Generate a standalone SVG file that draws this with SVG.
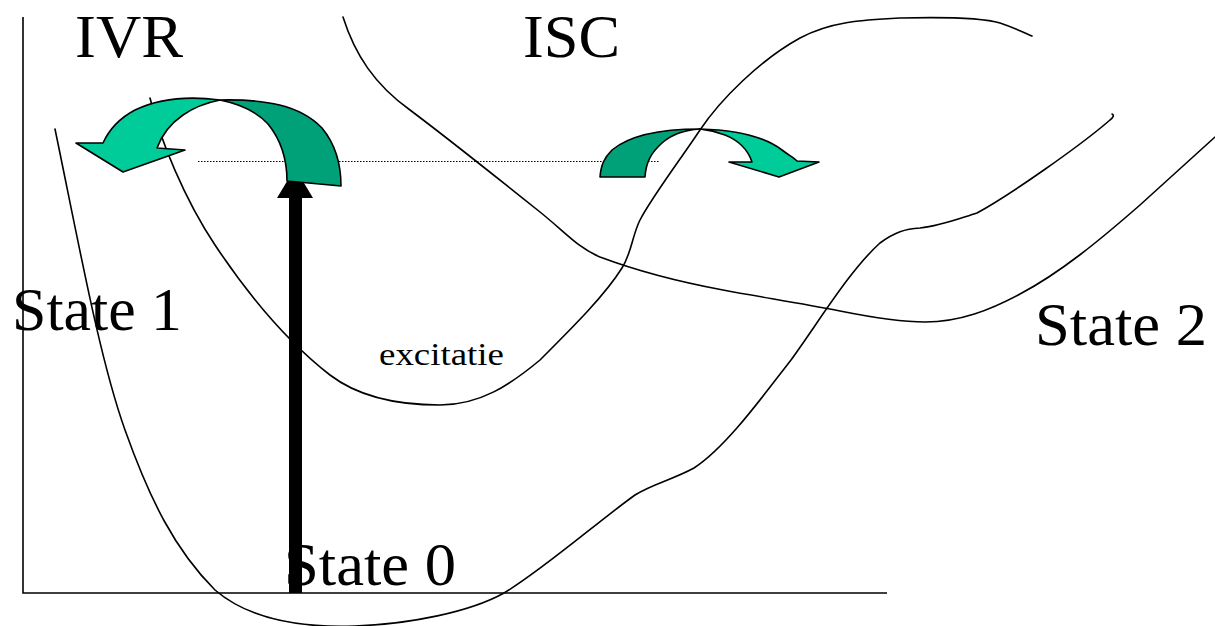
<svg xmlns="http://www.w3.org/2000/svg" width="1215" height="626" viewBox="0 0 1215 626">
  <style>
    .curve { fill: none; stroke: #000; stroke-width: 1.6; stroke-linecap: round; stroke-linejoin: round; }
    .axis { fill: none; stroke: #000; stroke-width: 1.6; }
    .level { fill: none; stroke: #000; stroke-width: 1; stroke-dasharray: 1.5 1.5; }
    .band-back { fill: #00A078; stroke: #000; stroke-width: 1.6; stroke-linejoin: round; }
    .band-front { fill: #00CC99; stroke: #000; stroke-width: 1.6; stroke-linejoin: round; }
    text { fill: #000; }
  </style>
  <rect width="1215" height="626" fill="#fff"/>

  <!-- axes -->
  <g id="axes">
    <path class="axis" d="M23,17 L23,593 L887,593"/>
  </g>

  <!-- energy level of the excited state -->
  <g id="level">
    <path class="level" d="M198,161.5 L660,161.5"/>
  </g>

  <!-- intersystem crossing arrow -->
  <g id="isc-arrow">
    <path class="band-back" d="M600,177 C601,165 604,158 612,150 C630,135 660,129 700,129 C685,130 672,134 662,143 C651,153 646,162 645,177 Z"/>
    <path class="band-front" d="M700,129 C735,130 765,137 782,150 C790,156 794,158 797,161 L819,162 L779,177 L729,162 L752,162 C748,150 738,140 725,135 C717,132 708,130 700,129 Z"/>
  </g>

  <!-- potential energy curves -->
  <g id="connectors">
    <path id="state0" class="curve" d="M55,129 C80,250 100,360 125,430 C150,500 175,550 215,590 C250,620 300,628 355,626 C410,624 470,612 504,593 C540,572 600,520 635,495 C652,484 672,480 694,468 C725,448 760,400 791,360 C820,320 850,270 880,243 C895,232 905,229 920,228 C940,226 955,220 977,213 C1010,195 1080,146 1110,120 C1114,117 1114,115 1112,114"/>
    <path id="state1" class="curve" d="M150,98 C160,140 185,200 215,245 C245,290 285,340 330,375 C360,398 400,405 440,405 C480,405 510,385 540,360 C575,325 605,295 622,268 C632,252 632,236 640,220 C652,197 680,160 700,130 C720,100 760,60 800,38 C830,22 860,20 900,18 C940,17 980,17 1000,23 C1015,28 1025,33 1032,36"/>
    <path id="state2" class="curve" d="M343,17 C355,55 375,85 410,110 C450,140 500,180 540,212 C565,232 578,248 600,257 C640,272 680,282 723,290 C760,297 800,303 840,311 C870,317 900,322 925,322 C960,322 990,310 1020,294 C1060,273 1100,240 1140,205 C1170,178 1195,155 1215,137"/>
  </g>

  <!-- excitation arrow -->
  <g id="excitation">
    <rect x="289" y="190" width="13" height="403" fill="#000"/>
    <polygon points="277,198 313,198 295,168" fill="#000"/>
  </g>

  <!-- internal vibrational relaxation arrow -->
  <g id="ivr-arrow">
    <path class="band-back" d="M220,100 C265,99 300,105 322,128 C336,145 341,165 341,186 L287,181 C287,160 281,140 268,124 C256,111 240,104 220,100 Z"/>
    <path class="band-front" d="M220,100 C190,96 160,98 135,110 C118,119 108,132 103,143 L76,143 L123,172 L185,150 L157,148 C161,137 170,124 183,115 C193,108 205,103 220,100 Z"/>
  </g>

  <!-- labels -->
  <g id="labels" font-family="'Liberation Serif', 'Times New Roman', Tinos, 'DejaVu Serif', serif">
    <text x="75" y="57" font-size="62" textLength="108" lengthAdjust="spacingAndGlyphs">IVR</text>
    <text x="523" y="57" font-size="62" textLength="97" lengthAdjust="spacingAndGlyphs">ISC</text>
    <text x="12" y="330" font-size="62" textLength="170" lengthAdjust="spacingAndGlyphs">State 1</text>
    <text x="1035" y="345" font-size="62" textLength="172" lengthAdjust="spacingAndGlyphs">State 2</text>
    <text x="284" y="585" font-size="62" textLength="172" lengthAdjust="spacingAndGlyphs">State 0</text>
    <text x="379" y="365" font-size="32" textLength="125" lengthAdjust="spacingAndGlyphs">excitatie</text>
  </g>
</svg>
